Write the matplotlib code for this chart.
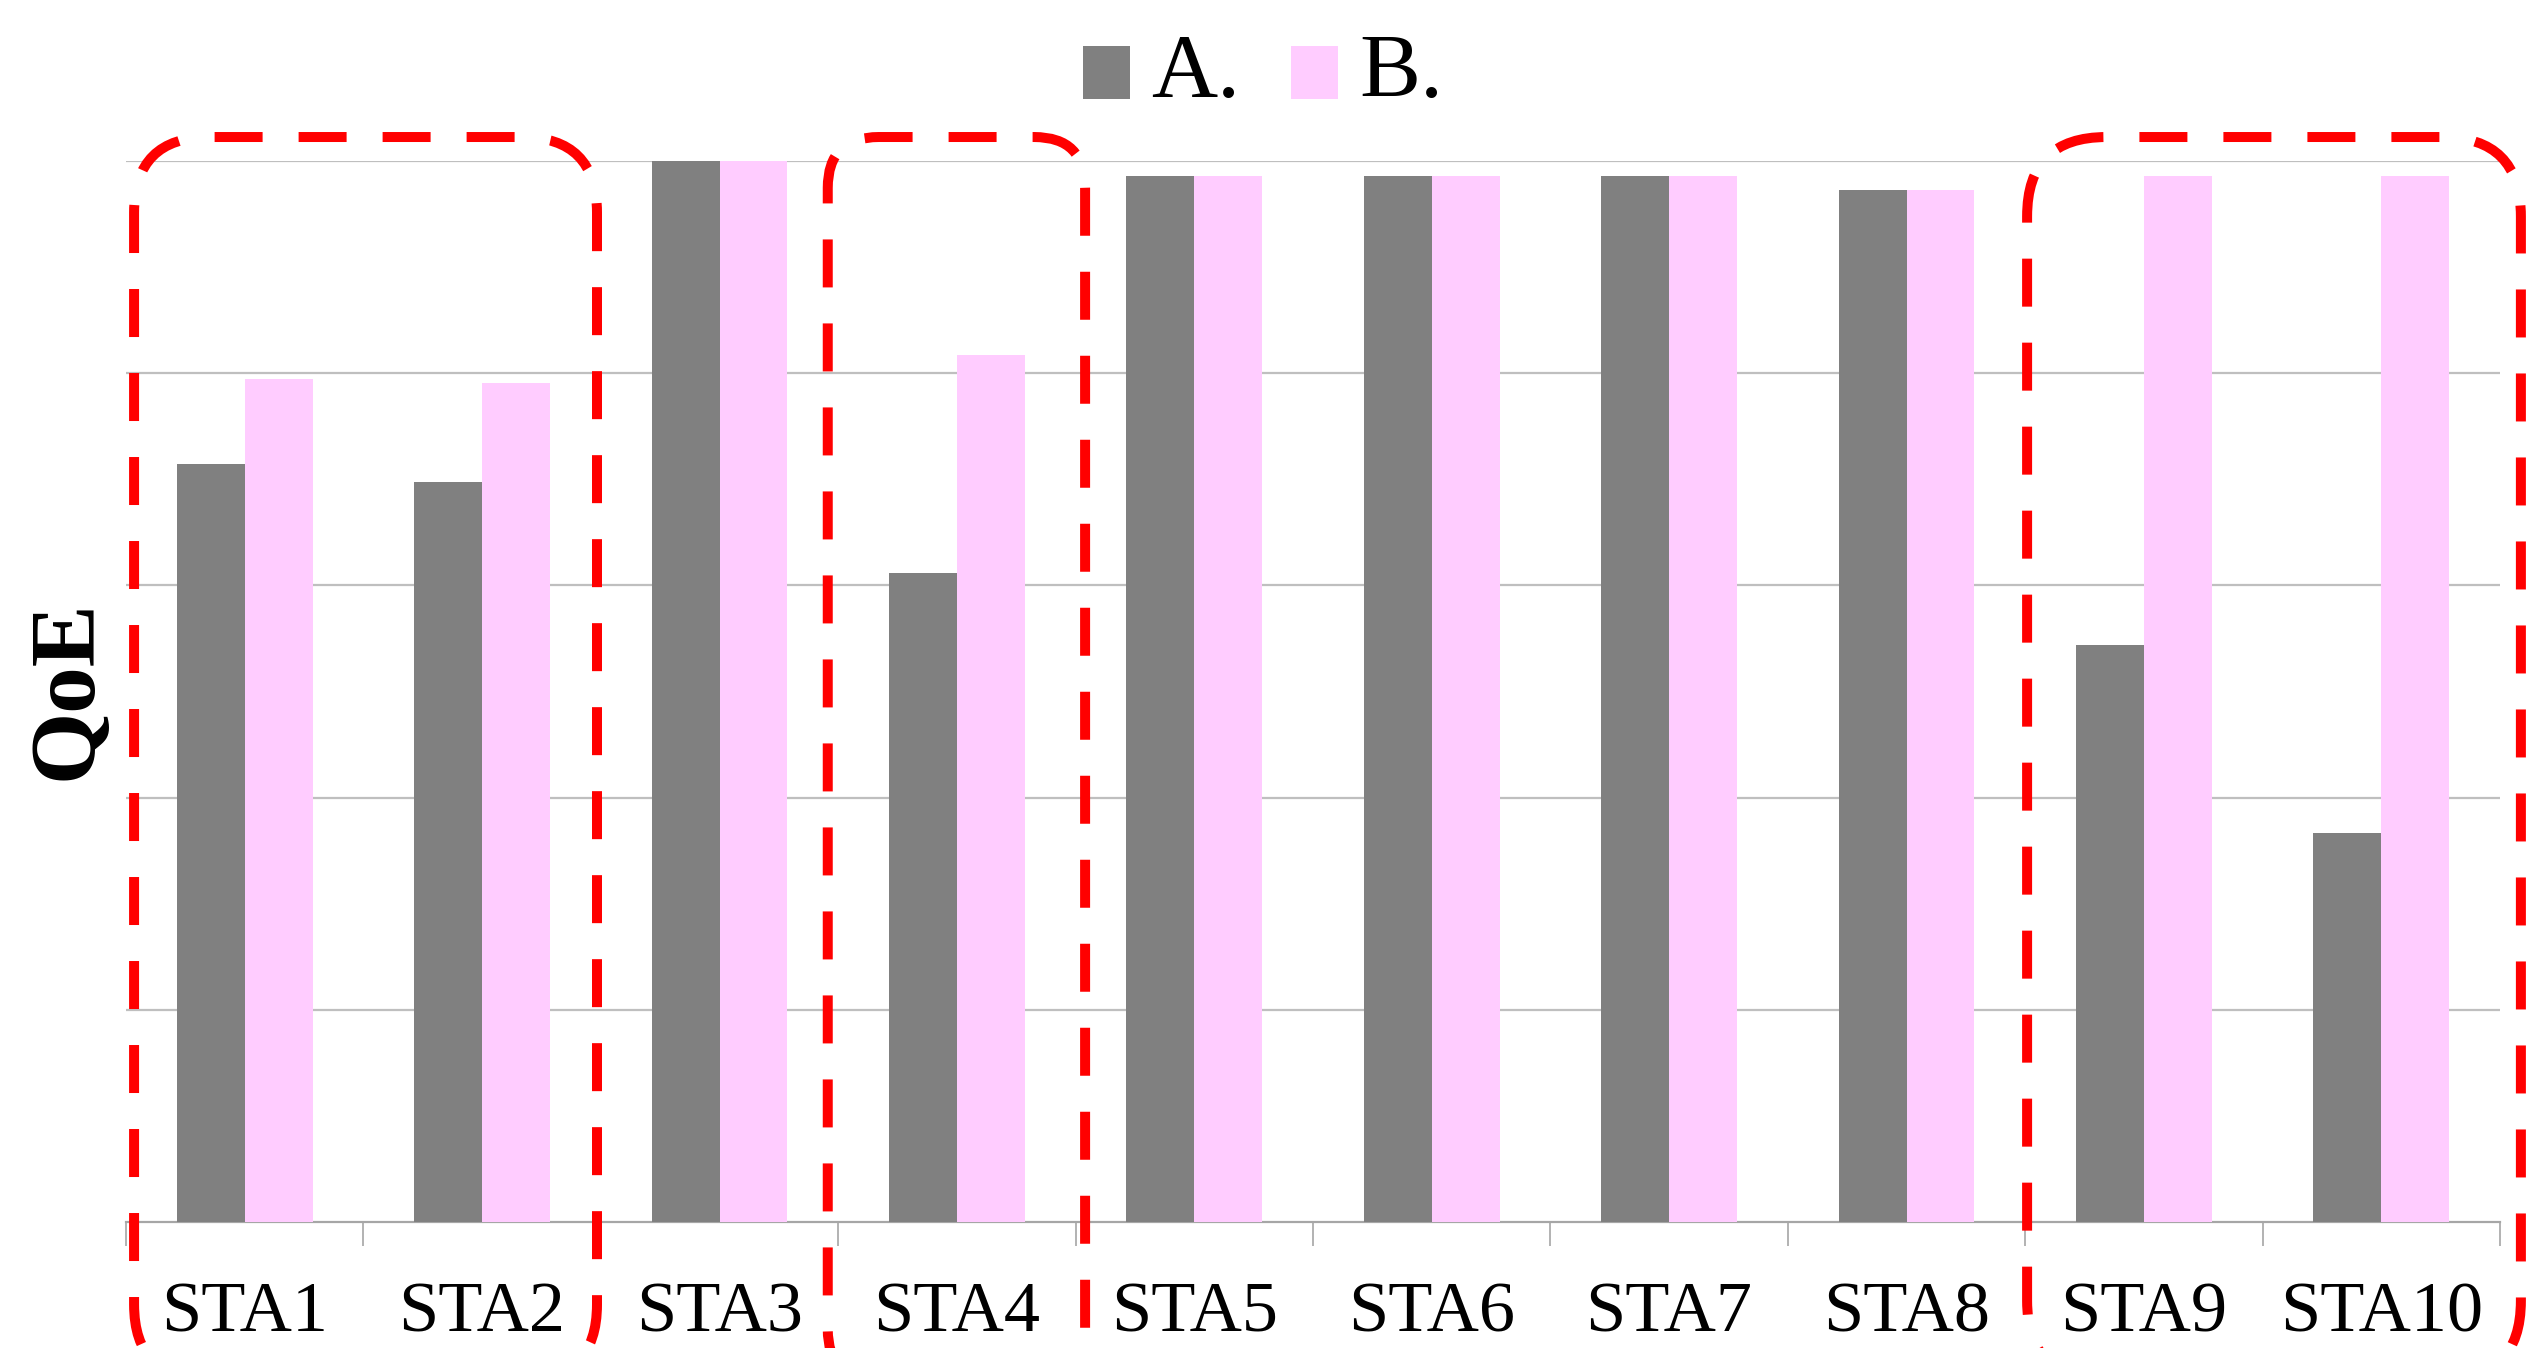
import numpy as np
import matplotlib
matplotlib.use("Agg")
import matplotlib.pyplot as plt
from matplotlib.patches import Patch, FancyBboxPatch, Rectangle
from matplotlib.legend_handler import HandlerPatch
from matplotlib.transforms import IdentityTransform

plt.rcParams['font.family'] = ['Liberation Serif', 'DejaVu Serif']

# data
stations = ['STA1', 'STA2', 'STA3', 'STA4', 'STA5',
            'STA6', 'STA7', 'STA8', 'STA9', 'STA10']
qoe_a = [0.714, 0.697, 1.0, 0.612, 0.986, 0.986, 0.986, 0.973, 0.544, 0.367]
qoe_b = [0.795, 0.791, 1.0, 0.817, 0.986, 0.986, 0.986, 0.973, 0.986, 0.986]
series_names = ['A.', 'B.']
# highlighted station groups (first, last index)
highlight_groups = [(0, 1), (3, 3), (8, 9)]

col_a = '#808080'
col_b = '#FFCCFF'
grid_col = '#BFBFBF'

W, H = 2526, 1348
fig = plt.figure(figsize=(W / 100, H / 100), dpi=100)
ax = fig.add_axes([126 / W, (H - 1222) / H, (2500 - 126) / W, (1222 - 161) / H])

x = np.arange(len(stations))
bw = 2 / 7
ax.bar(x - bw / 2, qoe_a, bw, color=col_a, zorder=3)
ax.bar(x + bw / 2, qoe_b, bw, color=col_b, zorder=3)

ax.set_xlim(-0.5, len(stations) - 0.5)
ax.set_ylim(0, 1)
ax.set_yticks(np.arange(0.2, 1.01, 0.2))
ax.yaxis.grid(True, color=grid_col, lw=1.6, zorder=0)
ax.tick_params(axis='y', length=0, labelleft=False)

ax.set_xticks(x)
ax.set_xticklabels(stations, fontsize=52)
ax.tick_params(axis='x', which='major', length=0, pad=43)
ax.set_xticks(np.arange(-0.5, len(stations), 1), minor=True)
ax.tick_params(axis='x', which='minor', length=17, width=1.2, color='#A6A6A6')

for s in ['top', 'right', 'left']:
    ax.spines[s].set_visible(False)
ax.spines['bottom'].set_color('#A6A6A6')
ax.spines['bottom'].set_linewidth(1.6)

fig.text(68 / W, 1 - 690 / H, 'QoE', rotation=90, ha='center', va='center',
         fontsize=67, fontweight='bold')


# legend squares sit a bit lower than matplotlib puts them
def low_square(legend, orig_handle, xdescent, ydescent, width, height, fontsize):
    return Rectangle((-xdescent, -ydescent - 5.5), width, height)


handles = [Patch(facecolor=col_a), Patch(facecolor=col_b)]
fig.legend(handles, series_names, loc='center', bbox_to_anchor=(0.5, 1 - 75 / H),
           ncol=2, frameon=False, fontsize=66, handlelength=0.52,
           handleheight=0.52, handletextpad=0.23, columnspacing=0.55,
           borderpad=0, borderaxespad=0,
           handler_map={Patch: HandlerPatch(patch_func=low_square)})

# red dashed rounded boxes around the highlighted groups
box_pad_left = [0.034, -0.044, 0.008]
box_pad_right = [-0.016, 0.040, 0.088]
box_top, box_bottom = 1.0226, -0.149
fig.canvas.draw()
for (g0, g1), pl, pr in zip(highlight_groups, box_pad_left, box_pad_right):
    x0, y0 = ax.transData.transform((g0 - 0.5 + pl, box_bottom))
    x1, y1 = ax.transData.transform((g1 + 0.5 + pr, box_top))
    rad = 0.12 * (x1 - x0) + 20
    box = FancyBboxPatch((x0, y0), x1 - x0, y1 - y0,
                         boxstyle=f'round,pad=0,rounding_size={rad:.1f}',
                         transform=IdentityTransform(), fill=False,
                         ec='#FF0000', lw=7.2, ls=(0, (4.8, 3.6)),
                         clip_on=False, zorder=10)
    fig.add_artist(box)

fig.savefig('out.png', dpi=100)
